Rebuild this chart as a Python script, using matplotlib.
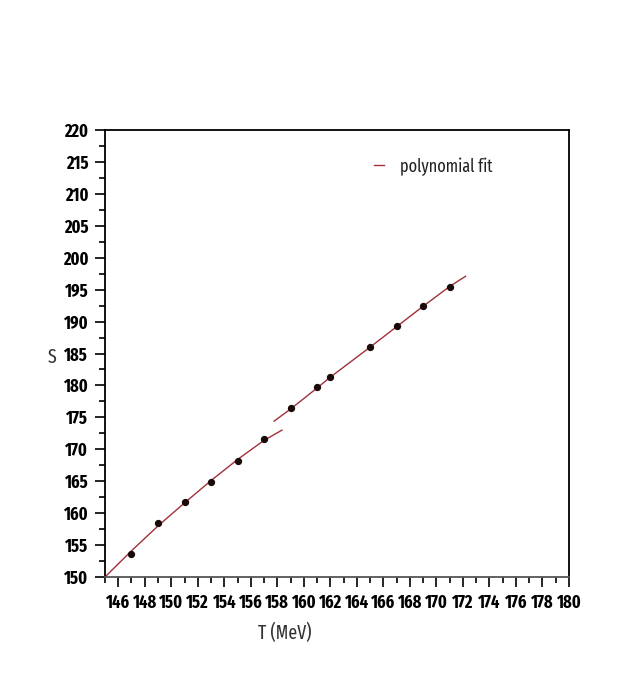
import matplotlib
matplotlib.use("Agg")
import matplotlib.pyplot as plt
from matplotlib.ticker import MultipleLocator
from matplotlib import font_manager
import numpy as np

# data points
T_pts = [147, 149, 151, 153, 155, 157, 159, 161, 162, 165, 167, 169, 171]
S_pts = [153.6, 158.5, 161.7, 164.9, 168.2, 171.6, 176.5, 179.75, 181.3, 186.0, 189.3, 192.4, 195.4]

# fit segments
fit1_T = [145.0, 147.0, 149.0, 151.0, 153.0, 155.0, 157.0, 158.35]
fit1_S = [150.0, 154.1, 158.0, 161.6, 165.1, 168.4, 171.4, 173.0]
fit2_T = [157.75, 159.0, 161.0, 162.0, 165.0, 167.0, 169.0, 171.0, 172.2]
fit2_S = [174.4, 176.3, 179.6, 181.3, 186.0, 189.2, 192.4, 195.5, 197.1]


def rank(nm):
    if 'extracondensed' in nm or 'ultracondensed' in nm or 'extra condensed' in nm:
        return 0
    if 'narrow' in nm:
        return 1
    if 'semicondensed' in nm or 'semi condensed' in nm:
        return 3
    if 'condensed' in nm:
        return 2
    return 9


best_bold, best_reg = (9, None), (9, None)
for f in font_manager.fontManager.ttflist:
    nm = (f.name + ' ' + str(f.fname)).lower().replace('-', '')
    r = rank(nm)
    if r == 9 or f.style != 'normal':
        continue
    if f.weight in ('bold', 700) and r < best_bold[0]:
        best_bold = (r, f.fname)
    if f.weight in ('normal', 'regular', 400) and r < best_reg[0]:
        best_reg = (r, f.fname)

fig = plt.figure(figsize=(6.23, 6.92), dpi=100)
renderer = fig.canvas.get_renderer()


def fit_size(fp, text, target_px):
    t = fig.text(0, 0, text, fontproperties=fp)
    w = t.get_window_extent(renderer).width
    t.remove()
    return fp.get_size() * target_px / w


if best_bold[1]:
    tick_fp = font_manager.FontProperties(fname=best_bold[1], size=12)
else:
    tick_fp = font_manager.FontProperties(family='DejaVu Sans', weight='bold', size=12)
tick_fp.set_size(min(13, fit_size(tick_fp, '146', 24)))

if best_reg[1]:
    lab_fp = font_manager.FontProperties(fname=best_reg[1], size=13)
else:
    lab_fp = font_manager.FontProperties(family='Liberation Sans', size=12)
leg_fp = lab_fp.copy()
leg_fp.set_size(min(14, fit_size(leg_fp, 'polynomial fit', 94)))
lab_fp.set_size(min(14, fit_size(lab_fp, 'T (MeV)', 63)))

ax = fig.add_axes([0.1685, 0.1662, 0.9133 - 0.1685, 0.8121 - 0.1662])

line_color = '#a0303a'
ax.plot(fit1_T, fit1_S, color=line_color, lw=1.0, label='polynomial fit')
ax.plot(fit2_T, fit2_S, color=line_color, lw=1.0)
ax.scatter(T_pts, S_pts, s=18, color='#1a0a0a', zorder=3)

ax.set_xlim(145, 180)
ax.set_ylim(150, 220)
ax.set_xticks(np.arange(146, 181, 2))
ax.xaxis.set_minor_locator(MultipleLocator(1))
ax.yaxis.set_major_locator(MultipleLocator(5))
ax.yaxis.set_minor_locator(MultipleLocator(2.5))
ax.tick_params(which='major', direction='out', length=7, width=1.2, pad=5)
ax.tick_params(which='minor', direction='out', length=4, width=1.2)
for lab in ax.get_yticklabels() + ax.get_xticklabels():
    lab.set_fontproperties(tick_fp)
for sp in ax.spines.values():
    sp.set_linewidth(1.3)
    sp.set_color('black')
ax.spines['bottom'].set_color('#555555')

fig.text(0.083, 0.483, 'S', fontproperties=lab_fp, color='#333333', ha='center', va='center')
fig.text(0.457, 0.085, 'T (MeV)', fontproperties=lab_fp, color='#333333', ha='center', va='center')

ax.legend(loc='upper left', bbox_to_anchor=(0.545, 0.975), frameon=False,
          handlelength=0.6, prop=leg_fp, handletextpad=0.9,
          labelcolor='#222222')

fig.savefig('out.png', dpi=100)
